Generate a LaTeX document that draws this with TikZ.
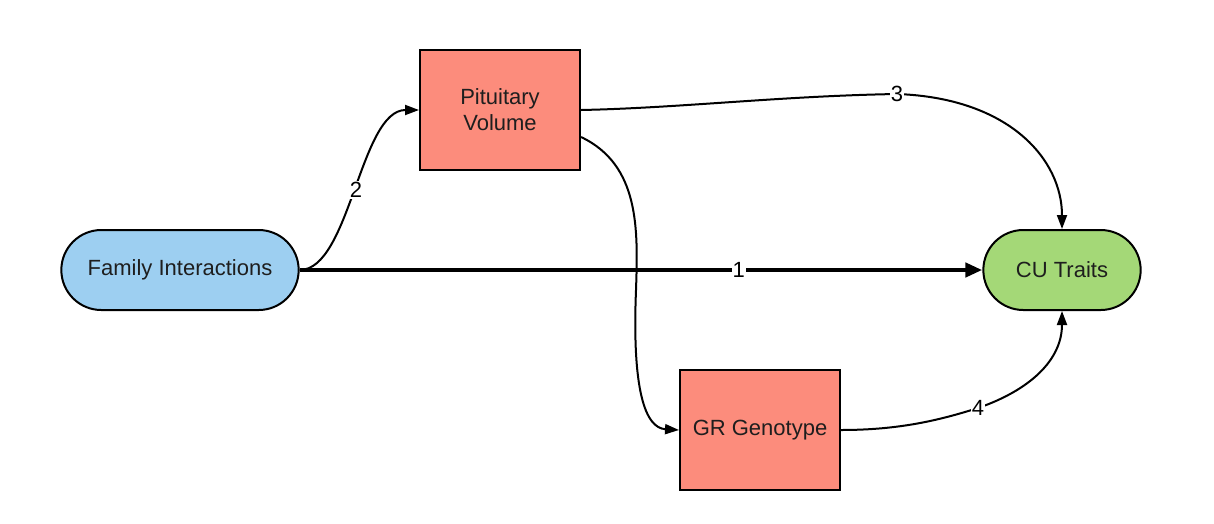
\documentclass[tikz,border=0pt]{standalone}
\usepackage{fontspec}
\setmainfont{Liberation Sans}
\usetikzlibrary{arrows.meta,shapes.misc}
\definecolor{fiblue}{HTML}{9DCFF1}
\definecolor{boxred}{HTML}{FC8C7C}
\definecolor{cugreen}{HTML}{A4D877}
\definecolor{txt}{HTML}{1E1E1E}
\begin{document}
\begin{tikzpicture}[x=1pt,y=-1pt,
  pill/.style={rounded rectangle, draw=black, line width=2pt, minimum height=80pt, text=txt, font=\fontsize{22}{26}\selectfont},
  boxnode/.style={rectangle, draw=black, line width=2pt, fill=boxred, minimum width=160pt, minimum height=120pt, align=center, text=txt, font=\fontsize{22}{26}\selectfont},
  link/.style={line width=2pt, -{Triangle[length=14pt,width=10pt]}},
  mainlink/.style={line width=4.5pt, -{Triangle[length=17pt,width=14pt]}},
  lbl/.style={fill=white, inner sep=1pt, font=\fontsize{22}{26}\selectfont}]
\useasboundingbox (0,0) rectangle (1214,523);
\fill[white] (0,0) rectangle (1214,523);

\node[pill, fill=fiblue, minimum width=244pt] (fi) at (180,270) {Family Interactions};
\node[boxnode] (pv) at (500,110) {Pituitary\\Volume};
\node[pill, fill=cugreen, minimum width=164pt] (cu) at (1062,270) {CU Traits};
\node[boxnode] (gr) at (760,430) {GR Genotype};

\coordinate (pvlow) at ([yshift=-27pt]pv.east);

\draw[mainlink] (fi.east) -- node[lbl, pos=0.643]{1} (cu.west);
\draw[link] (fi.east) .. controls (350,270) and (360,110) .. node[lbl]{2} (pv.west);
\draw[link] (pv.east) .. controls (680,108) and (780,96) .. (897,94) node[lbl]{3}
  .. controls (1010,98) and (1062,160) .. (cu.north);
\draw[link] (pvlow) .. controls (640,165) and (638,230) .. (636,290)
  .. controls (632,390) and (645,428) .. (gr.west);
\draw[link] (gr.east) .. controls (900,430) and (940,420) .. (978,408) node[lbl]{4}
  .. controls (1030,390) and (1062,360) .. (cu.south);
\end{tikzpicture}
\end{document}
